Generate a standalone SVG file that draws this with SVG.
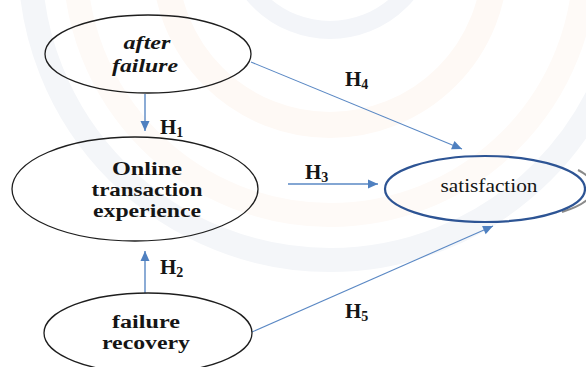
<svg xmlns="http://www.w3.org/2000/svg" width="586" height="367" viewBox="0 0 586 367">
<style>
.node{fill:none;stroke:#1e1e1e;stroke-width:1.3}
.sat{fill:none;stroke:#2d5494;stroke-width:2.2}
.lbl{font-family:"Liberation Serif","Times New Roman",serif;font-weight:bold;font-size:18px;fill:#151515;text-anchor:middle}
.it{font-style:italic}
.reg{font-weight:normal;font-size:19px}
.h{font-family:"Liberation Serif","Times New Roman",serif;font-weight:bold;font-size:21px;fill:#151515}
.sub{font-size:14px}
.con{stroke:#5a88c4;stroke-width:1.4;fill:none}
.thin{stroke-width:1.1}
</style>
<defs>
<marker id="ah" markerUnits="userSpaceOnUse" markerWidth="12" markerHeight="12" viewBox="0 0 12 12" refX="11" refY="6" orient="auto">
<path d="M1,1.5 L11,6 L1,10.5 Z" fill="#4f80c0"/>
</marker>
</defs>
<rect width="586" height="367" fill="#ffffff"/>
<g id="watermark" fill="none">
<circle cx="330" cy="-70" r="100" stroke="#f3f5f9" stroke-width="18"/>
<circle cx="330" cy="-40" r="165" stroke="#fef9f5" stroke-width="26"/>
<circle cx="330" cy="-40" r="300" stroke="#f4f6f9" stroke-width="24"/>
<circle cx="330" cy="-40" r="255" stroke="#fefaf7" stroke-width="24"/>
</g>
<g id="connectors">
<line class="con" x1="145" y1="94" x2="145" y2="131" marker-end="url(#ah)"/>
<line class="con" x1="145" y1="293" x2="145" y2="251" marker-end="url(#ah)"/>
<line class="con" x1="288" y1="184" x2="378" y2="184" marker-end="url(#ah)"/>
<line class="con thin" x1="251" y1="62" x2="462" y2="149" marker-end="url(#ah)"/>
<line class="con thin" x1="252" y1="332" x2="493" y2="226" marker-end="url(#ah)"/>
<text class="h" x="160" y="134">H<tspan class="sub" dy="3">1</tspan></text>
<text class="h" x="160" y="274">H<tspan class="sub" dy="3">2</tspan></text>
<text class="h" x="305" y="179">H<tspan class="sub" dy="3">3</tspan></text>
<text class="h" x="345" y="86">H<tspan class="sub" dy="3">4</tspan></text>
<text class="h" x="345" y="318">H<tspan class="sub" dy="3">5</tspan></text>
</g>
<g id="after-failure">
<ellipse class="node" cx="148" cy="54" rx="103" ry="39" fill="#fff"/>
<text class="lbl it" x="147" y="49" textLength="47" lengthAdjust="spacingAndGlyphs">after</text>
<text class="lbl it" x="145" y="72" textLength="66" lengthAdjust="spacingAndGlyphs">failure</text>
</g>
<g id="online-transaction-experience">
<ellipse class="node" cx="135" cy="189" rx="123" ry="52"/>
<text class="lbl" x="147" y="175" textLength="70" lengthAdjust="spacingAndGlyphs">Online</text>
<text class="lbl" x="147" y="196" textLength="111" lengthAdjust="spacingAndGlyphs">transaction</text>
<text class="lbl" x="147" y="217" textLength="108" lengthAdjust="spacingAndGlyphs">experience</text>
</g>
<g id="failure-recovery">
<ellipse class="node" cx="148" cy="333" rx="104" ry="40"/>
<text class="lbl" x="146" y="328" textLength="68" lengthAdjust="spacingAndGlyphs">failure</text>
<text class="lbl" x="146" y="349" textLength="88" lengthAdjust="spacingAndGlyphs">recovery</text>
</g>
<g id="satisfaction">
<path d="M578,170 A100,33 0 0 1 562,212" fill="none" stroke="#8a8a8a" stroke-width="2"/>
<ellipse class="sat" cx="485" cy="189" rx="100" ry="33"/>
<text class="lbl reg" x="489" y="192" textLength="97" lengthAdjust="spacingAndGlyphs">satisfaction</text>
</g>
</svg>
